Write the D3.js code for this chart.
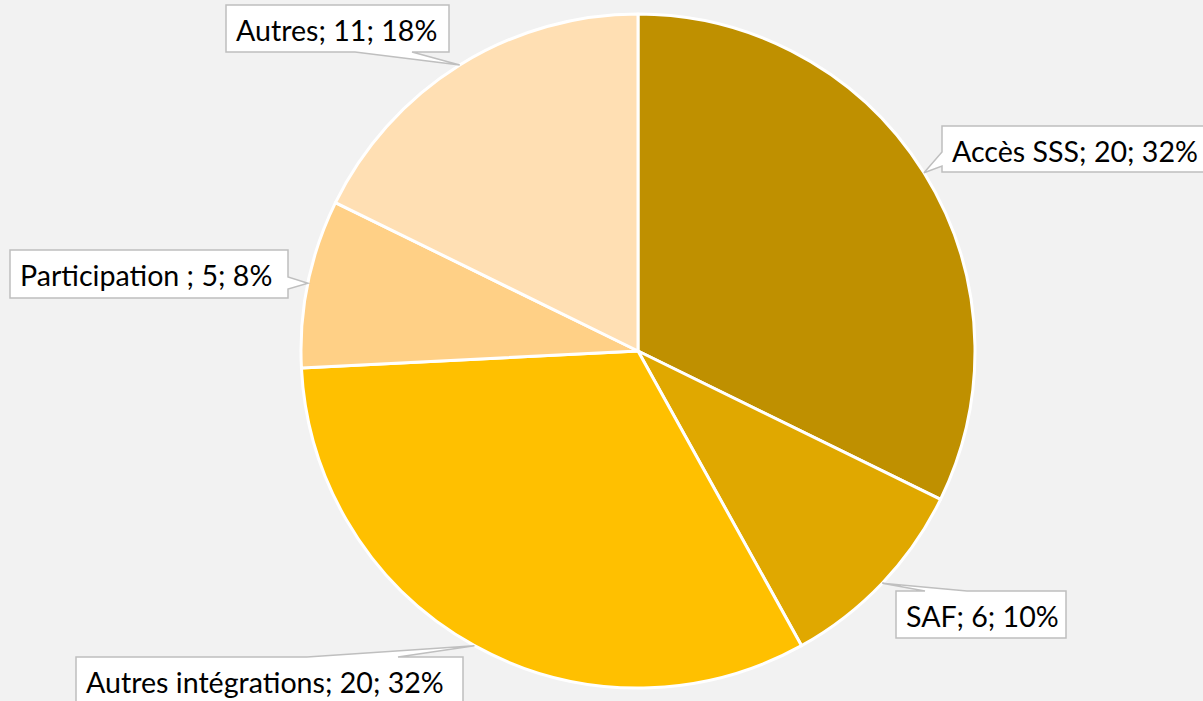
<!DOCTYPE html>
<html><head><meta charset="utf-8">
<script src="https://cdn.jsdelivr.net/npm/d3@7"></script>
<style>html,body{margin:0;padding:0;background:#F2F2F2;}svg{display:block;}</style>
</head><body>
<svg id="c" width="1203" height="701"></svg>
<script>
const categories = ["Accès SSS", "SAF", "Autres intégrations", "Participation ", "Autres"];
const values = [20, 6, 20, 5, 11];
const percentLabels = ["32%", "10%", "32%", "8%", "18%"];
const colors = ["#BF9000", "#E0A800", "#FFC000", "#FFD086", "#FFDFB3"];

// label box layout: [x, y, w, h, side, notchStart, notchEnd]
const boxes = [
  [942, 126, 262, 46, "left", 152, 166],
  [896, 591, 170, 47, "top", 925, 967],
  [76, 657, 387, 60, "top", 307, 398],
  [10, 250, 278, 48, "right", 277, 289],
  [226, 5, 223, 47, "bottom", 355, 412]
];

const svg = d3.select("#c");
const cx = 638, cy = 351, R = 337;
const g = svg.append("g").attr("transform", `translate(${cx},${cy})`);
const pie = d3.pie().sort(null).value(d => d)(values);
const arc = d3.arc().innerRadius(0).outerRadius(R);
g.selectAll("path").data(pie).enter().append("path")
  .attr("d", arc).attr("fill", (d, i) => colors[i])
  .attr("stroke", "#fff").attr("stroke-width", 3).attr("stroke-linejoin", "round");

pie.forEach((d, i) => {
  const a = (d.startAngle + d.endAngle) / 2;
  const tx = cx + R * Math.sin(a), ty = cy - R * Math.cos(a);
  const [x, y, w, h, side, n1, n2] = boxes[i];
  let pts;
  if (side === "left") pts = [[x, y], [x + w, y], [x + w, y + h], [x, y + h], [x, n2], [tx, ty], [x, n1]];
  else if (side === "right") pts = [[x, y], [x + w, y], [x + w, n1], [tx, ty], [x + w, n2], [x + w, y + h], [x, y + h]];
  else if (side === "top") pts = [[x, y], [n1, y], [tx, ty], [n2, y], [x + w, y], [x + w, y + h], [x, y + h]];
  else pts = [[x, y], [x + w, y], [x + w, y + h], [n2, y + h], [tx, ty], [n1, y + h], [x, y + h]];
  svg.append("path").attr("d", "M" + pts.map(p => p.join(",")).join("L") + "Z")
    .attr("fill", "#fff").attr("stroke", "#BFBFBF").attr("stroke-width", 1.5);
  svg.append("text").attr("x", x + 10).attr("y", y + 24.5)
    .attr("dominant-baseline", "central")
    .attr("font-family", "Lato, 'Open Sans', sans-serif").attr("font-size", 28.6)
    .attr("fill", "#000")
    .text(`${categories[i]}; ${values[i]}; ${percentLabels[i]}`);
});
</script>
</body></html>
